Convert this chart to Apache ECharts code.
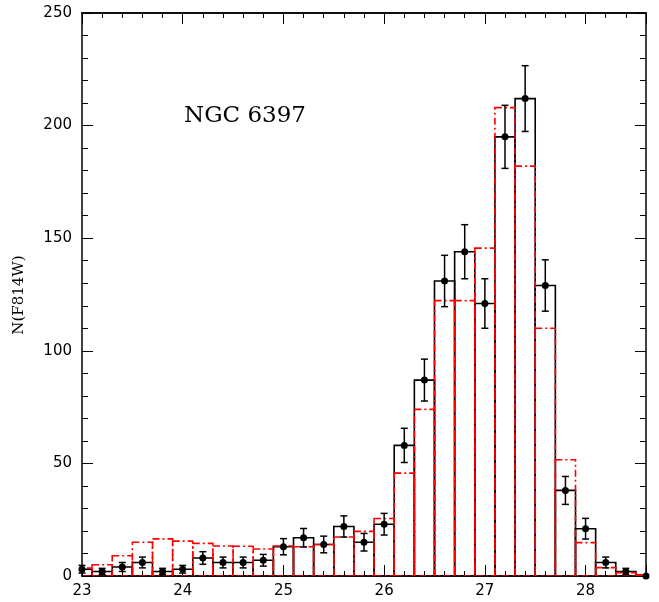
<!DOCTYPE html>
<html>
<head>
<meta charset="utf-8">
<script src="https://cdn.jsdelivr.net/npm/echarts@6/dist/echarts.min.js"></script>
<style>
  html, body { margin: 0; padding: 0; background: #fff; }
  #chart { width: 659px; height: 602px; }
</style>
</head>
<body>
<div id="chart"></div>
<script>
// bin centres (F814W magnitude), bin width 0.2
var binCenters = [23.0, 23.2, 23.4, 23.6, 23.8, 24.0, 24.2, 24.4, 24.6, 24.8,
                  25.0, 25.2, 25.4, 25.6, 25.8, 26.0, 26.2, 26.4, 26.6, 26.8,
                  27.0, 27.2, 27.4, 27.6, 27.8, 28.0, 28.2, 28.4, 28.6];
var binWidth = 0.2;

// observed counts (black histogram + points)
var observed = [3, 2, 4, 6, 2, 3, 8, 6, 6, 7,
                13, 17, 14, 22, 15, 23, 58, 87, 131, 144,
                121, 195, 212, 129, 38, 21, 6, 2, 0];
// error bars
var obsErr = [1.7, 1.4, 2.0, 2.4, 1.4, 1.7, 2.8, 2.4, 2.4, 2.6,
              3.6, 4.1, 3.7, 4.7, 3.9, 4.8, 7.6, 9.3, 11.4, 12.0,
              11.0, 14.0, 14.6, 11.4, 6.2, 4.6, 2.4, 1.4, 0];
// red dash-dot histogram
var model = [3.5, 5, 9, 15, 16.5, 15.5, 14.5, 13.3, 13.2, 12,
             13.3, 13, 14, 17.3, 19.8, 25.5, 45.7, 74, 122.3, 122.3,
             145.6, 208, 182, 110, 51.6, 14.8, 3.7, 1.5, 0.5];

var xTicks = [23, 24, 25, 26, 27, 28];
var yTicks = [0, 50, 100, 150, 200, 250];

var chart = echarts.init(document.getElementById('chart'));

function pairs(vals) {
  return binCenters.map(function (x, i) { return [x, vals[i]]; });
}

function histItem(color, dash, width) {
  return function (params, api) {
    var x = api.value(0), v = api.value(1);
    var p0 = api.coord([x - binWidth / 2, v]);
    var p1 = api.coord([x + binWidth / 2, 0]);
    return {
      type: 'rect',
      shape: { x: p0[0], y: p0[1], width: p1[0] - p0[0], height: p1[1] - p0[1] },
      style: { fill: 'none', stroke: color, lineWidth: width, lineDash: dash }
    };
  };
}

function errItem(params, api) {
  var x = api.value(0), v = api.value(1), e = api.value(2);
  var c = api.coord([x, v]);
  var hi = api.coord([x, v + e]);
  var lo = api.coord([x, v - e]);
  var cap = 3.5;
  var st = { stroke: '#000', lineWidth: 1.5 };
  var kids = [];
  if (e > 0) {
    kids.push({ type: 'line', shape: { x1: c[0], y1: hi[1], x2: c[0], y2: lo[1] }, style: st });
    kids.push({ type: 'line', shape: { x1: c[0] - cap, y1: hi[1], x2: c[0] + cap, y2: hi[1] }, style: st });
    kids.push({ type: 'line', shape: { x1: c[0] - cap, y1: lo[1], x2: c[0] + cap, y2: lo[1] }, style: st });
  }
  kids.push({ type: 'circle', shape: { cx: c[0], cy: c[1], r: 3.5 }, style: { fill: '#000' } });
  return { type: 'group', children: kids };
}

var frame = { show: true, lineStyle: { color: '#000', width: 1.5 } };
var labelFont = { fontFamily: 'DejaVu Sans', fontSize: 15, color: '#000' };

function xAxisDef(pos, major) {
  return {
    type: 'value', position: pos, min: 23, max: 28.6,
    interval: major ? 1 : binWidth,
    axisLine: frame,
    axisTick: { show: true, inside: true, length: major ? 11 : 5, lineStyle: { color: '#000', width: 1 } },
    axisLabel: Object.assign({
      show: major && pos === 'bottom', margin: 8,
      formatter: function (v) { return xTicks.indexOf(v) >= 0 ? String(v) : ''; }
    }, labelFont),
    splitLine: { show: false }
  };
}

function yAxisDef(pos) {
  return {
    type: 'value', position: pos, min: 0, max: 250, interval: 50,
    axisLine: frame,
    axisTick: { show: true, inside: true, length: 11, lineStyle: { color: '#000', width: 1 } },
    minorTick: { show: true, splitNumber: 5, length: 6, lineStyle: { color: '#000', width: 1 } },
    axisLabel: Object.assign({
      show: pos === 'left', margin: 10,
      formatter: function (v) { return yTicks.indexOf(v) >= 0 ? String(v) : ''; }
    }, labelFont),
    splitLine: { show: false }
  };
}

var option = {
  backgroundColor: '#fff',
  animation: false,
  grid: { left: 82, right: 13, top: 13, bottom: 26 },
  xAxis: [xAxisDef('bottom', true), xAxisDef('bottom', false), xAxisDef('top', true), xAxisDef('top', false)],
  yAxis: [yAxisDef('left'), yAxisDef('right')],
  graphic: [
    {
      type: 'text', left: 184, top: 105,
      style: { text: 'NGC 6397', fontFamily: 'DejaVu Serif', fontSize: 23, fill: '#000' }
    },
    {
      type: 'text', x: 19, y: 295, rotation: Math.PI / 2,
      style: { text: 'N(F814W)', fontFamily: 'DejaVu Serif', fontSize: 15, fill: '#000',
               align: 'center', verticalAlign: 'middle' }
    }
  ],
  series: [
    {
      type: 'custom', name: 'observed', clip: true,
      renderItem: histItem('#000', null, 1.6),
      data: pairs(observed)
    },
    {
      type: 'custom', name: 'model', clip: true,
      renderItem: histItem('#ff0000', [7, 3, 2, 3], 1.6),
      data: pairs(model)
    },
    {
      type: 'custom', name: 'points', clip: false,
      renderItem: errItem,
      data: binCenters.map(function (x, i) { return [x, observed[i], obsErr[i]]; })
    }
  ]
};

chart.setOption(option);
</script>
</body>
</html>
